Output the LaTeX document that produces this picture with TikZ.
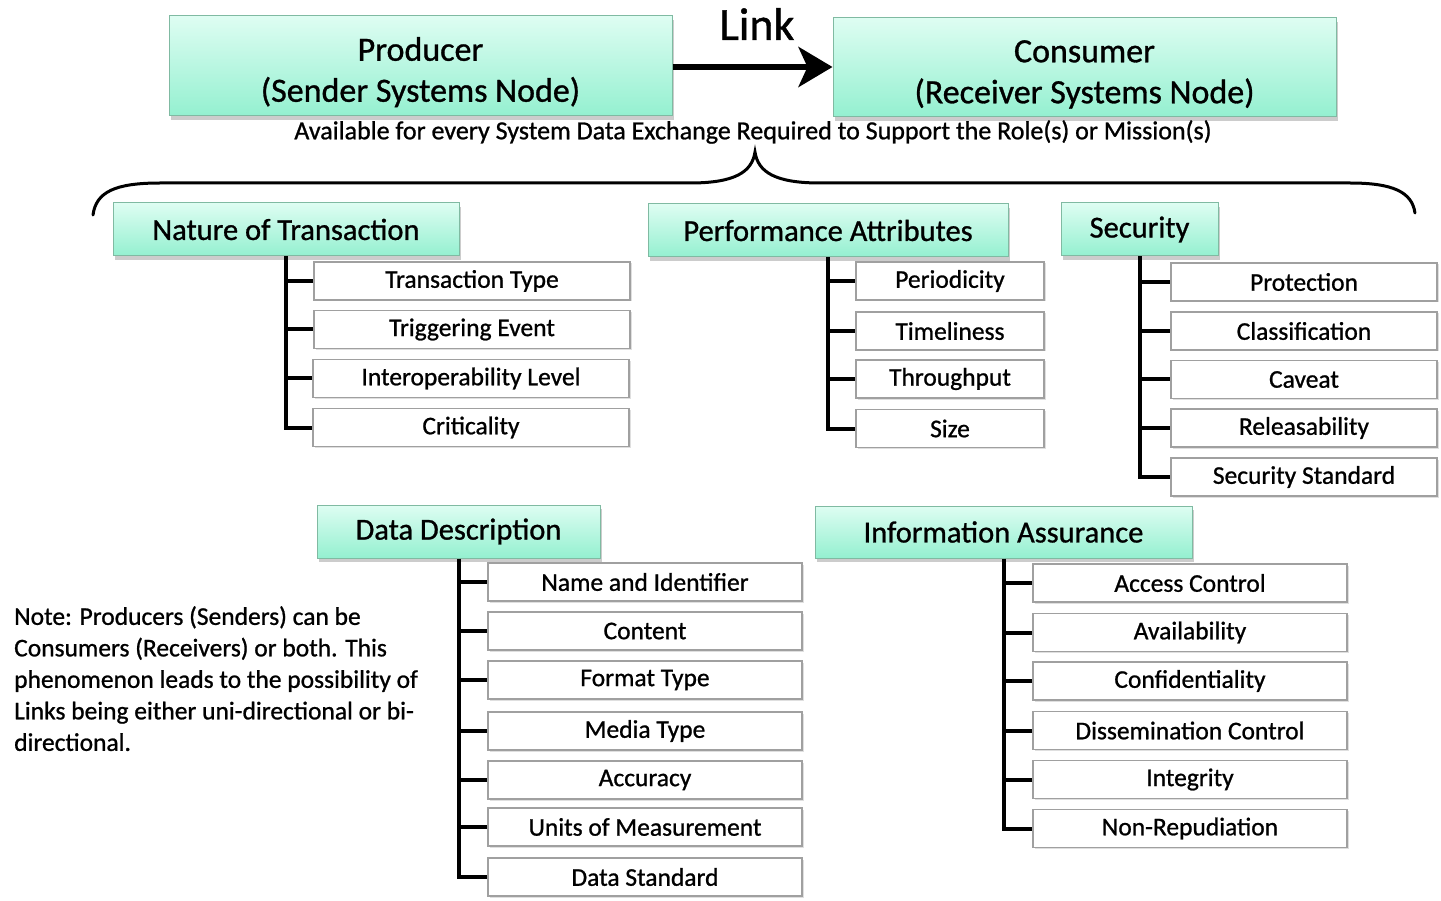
\documentclass[tikz,border=0pt]{standalone}
\usepackage{fontspec}
\setmainfont{Carlito}[FakeBold=0.9]
\usetikzlibrary{shadows,arrows.meta}
\definecolor{hdrtop}{RGB}{222,253,242}
\definecolor{hdrbot}{RGB}{148,240,208}
\definecolor{hdrborder}{RGB}{128,186,162}
\definecolor{itemborder}{RGB}{160,160,160}
\tikzset{
  hdr/.style={draw=hdrborder, line width=1pt, top color=hdrtop, bottom color=hdrbot,
    drop shadow={shadow xshift=1.5pt, shadow yshift=-4pt, opacity=0.4},
    inner sep=0pt, align=center},
  bighdr/.style={hdr, font=\fontsize{34}{41}\selectfont},
  cathdr/.style={hdr, font=\fontsize{30.5}{32}\selectfont, minimum height=53pt},
  item/.style={draw=itemborder, line width=1.2pt, fill=white, inner sep=0pt,
    minimum height=38pt, font=\fontsize{25.5}{28}\selectfont,
    drop shadow={shadow xshift=1.5pt, shadow yshift=-1.5pt, opacity=0.25}},
  tree/.style={line width=4pt},
  plain/.style={inner sep=0pt},
}
\begin{document}
\begin{tikzpicture}[x=1pt,y=-1pt]
\useasboundingbox (0,0) rectangle (1441,901);

% top nodes
\node[bighdr, minimum width=503pt, minimum height=100pt] (prod) at (420.5,66) {\rule{0pt}{36pt}Producer\\(Sender Systems Node)};
\node[bighdr, minimum width=503pt, minimum height=99pt] (cons) at (1084.5,67.5) {\rule{0pt}{36pt}Consumer\\(Receiver Systems Node)};
\draw[line width=6pt, -{Stealth[length=34pt,width=40pt,inset=9pt]}] (prod.east |- 0,67) -- (cons.west |- 0,67);
\node[plain, font=\fontsize{46}{50}\selectfont] (link) at (757,24) {Link};
\node[plain, font=\fontsize{26}{28}\selectfont] (avail) at (753,132) {Available for every System Data Exchange Required to Support the Role(s) or Mission(s)};

% brace
\draw[line width=3pt, line cap=round] (93,215) .. controls (96,192) and (115,183) .. (160,183)
  -- (690,183) .. controls (735,183) and (752,172) .. (755,152)
  .. controls (758,172) and (775,183) .. (820,183)
  -- (1350,183) .. controls (1393,183) and (1412,192) .. (1415,213);

% Nature of Transaction
\node[cathdr, minimum width=346pt] (nat) at (286,229.5) {Nature of Transaction};
\node[item, minimum width=316pt] (nat1) at (472,281) {Transaction Type};
\node[item, minimum width=316pt] (nat2) at (472,329.5) {Triggering Event};
\node[item, minimum width=316pt] (nat3) at (471,378.5) {Interoperability Level};
\node[item, minimum width=316pt] (nat4) at (471,427.5) {Criticality};
\draw[tree] (nat.south) |- (nat4.west);
\foreach \i in {1,2,3} \draw[tree] (nat.south |- nat\i.west) -- (nat\i.west);

% Performance Attributes
\node[cathdr, minimum width=360pt] (perf) at (828,230.5) {Performance Attributes};
\node[item, minimum width=188pt] (perf1) at (950,281) {Periodicity};
\node[item, minimum width=188pt] (perf2) at (950,331) {Timeliness};
\node[item, minimum width=188pt] (perf3) at (950,379) {Throughput};
\node[item, minimum width=188pt] (perf4) at (950,428.5) {Size};
\draw[tree] (perf.south) |- (perf4.west);
\foreach \i in {1,2,3} \draw[tree] (perf.south |- perf\i.west) -- (perf\i.west);

% Security
\node[cathdr, minimum width=157pt] (sec) at (1139.5,229.5) {Security};
\node[item, minimum width=266pt] (sec1) at (1304,282) {Protection};
\node[item, minimum width=266pt] (sec2) at (1304,331) {Classification};
\node[item, minimum width=266pt] (sec3) at (1304,379.5) {Caveat};
\node[item, minimum width=266pt] (sec4) at (1304,428) {Releasability};
\node[item, minimum width=266pt] (sec5) at (1304,477) {Security Standard};
\draw[tree] (sec.south) |- (sec5.west);
\foreach \i in {1,2,3,4} \draw[tree] (sec.south |- sec\i.west) -- (sec\i.west);

% Data Description
\node[cathdr, minimum width=283pt] (dd) at (458.5,531.5) {Data Description};
\node[item, minimum width=314pt] (dd1) at (645,582) {Name and Identifier};
\node[item, minimum width=314pt] (dd2) at (645,631) {Content};
\node[item, minimum width=314pt] (dd3) at (645,680) {Format Type};
\node[item, minimum width=314pt] (dd4) at (645,731) {Media Type};
\node[item, minimum width=314pt] (dd5) at (645,780) {Accuracy};
\node[item, minimum width=314pt] (dd6) at (645,827) {Units of Measurement};
\node[item, minimum width=314pt] (dd7) at (645,877) {Data Standard};
\draw[tree] (dd.south) |- (dd7.west);
\foreach \i in {1,...,6} \draw[tree] (dd.south |- dd\i.west) -- (dd\i.west);

% Information Assurance
\node[cathdr, minimum width=377pt, minimum height=52pt] (ia) at (1003.5,532) {Information Assurance};
\node[item, minimum width=314pt] (ia1) at (1190,583) {Access Control};
\node[item, minimum width=314pt] (ia2) at (1190,632.5) {Availability};
\node[item, minimum width=314pt] (ia3) at (1190,681) {Confidentiality};
\node[item, minimum width=314pt] (ia4) at (1190,730.5) {Dissemination Control};
\node[item, minimum width=314pt] (ia5) at (1190,779.5) {Integrity};
\node[item, minimum width=314pt] (ia6) at (1190,828.5) {Non-Repudiation};
\draw[tree] (ia.south) |- (ia6.west);
\foreach \i in {1,...,5} \draw[tree] (ia.south |- ia\i.west) -- (ia\i.west);

% Note
\node[plain, anchor=north west, align=left, font=\fontsize{25.5}{31.5}\selectfont] (note) at (14,606)
  {Note: Producers (Senders) can be\\Consumers (Receivers) or both. This\\phenomenon leads to the possibility of\\Links being either uni-directional or bi-\\directional.};
\end{tikzpicture}
\end{document}
